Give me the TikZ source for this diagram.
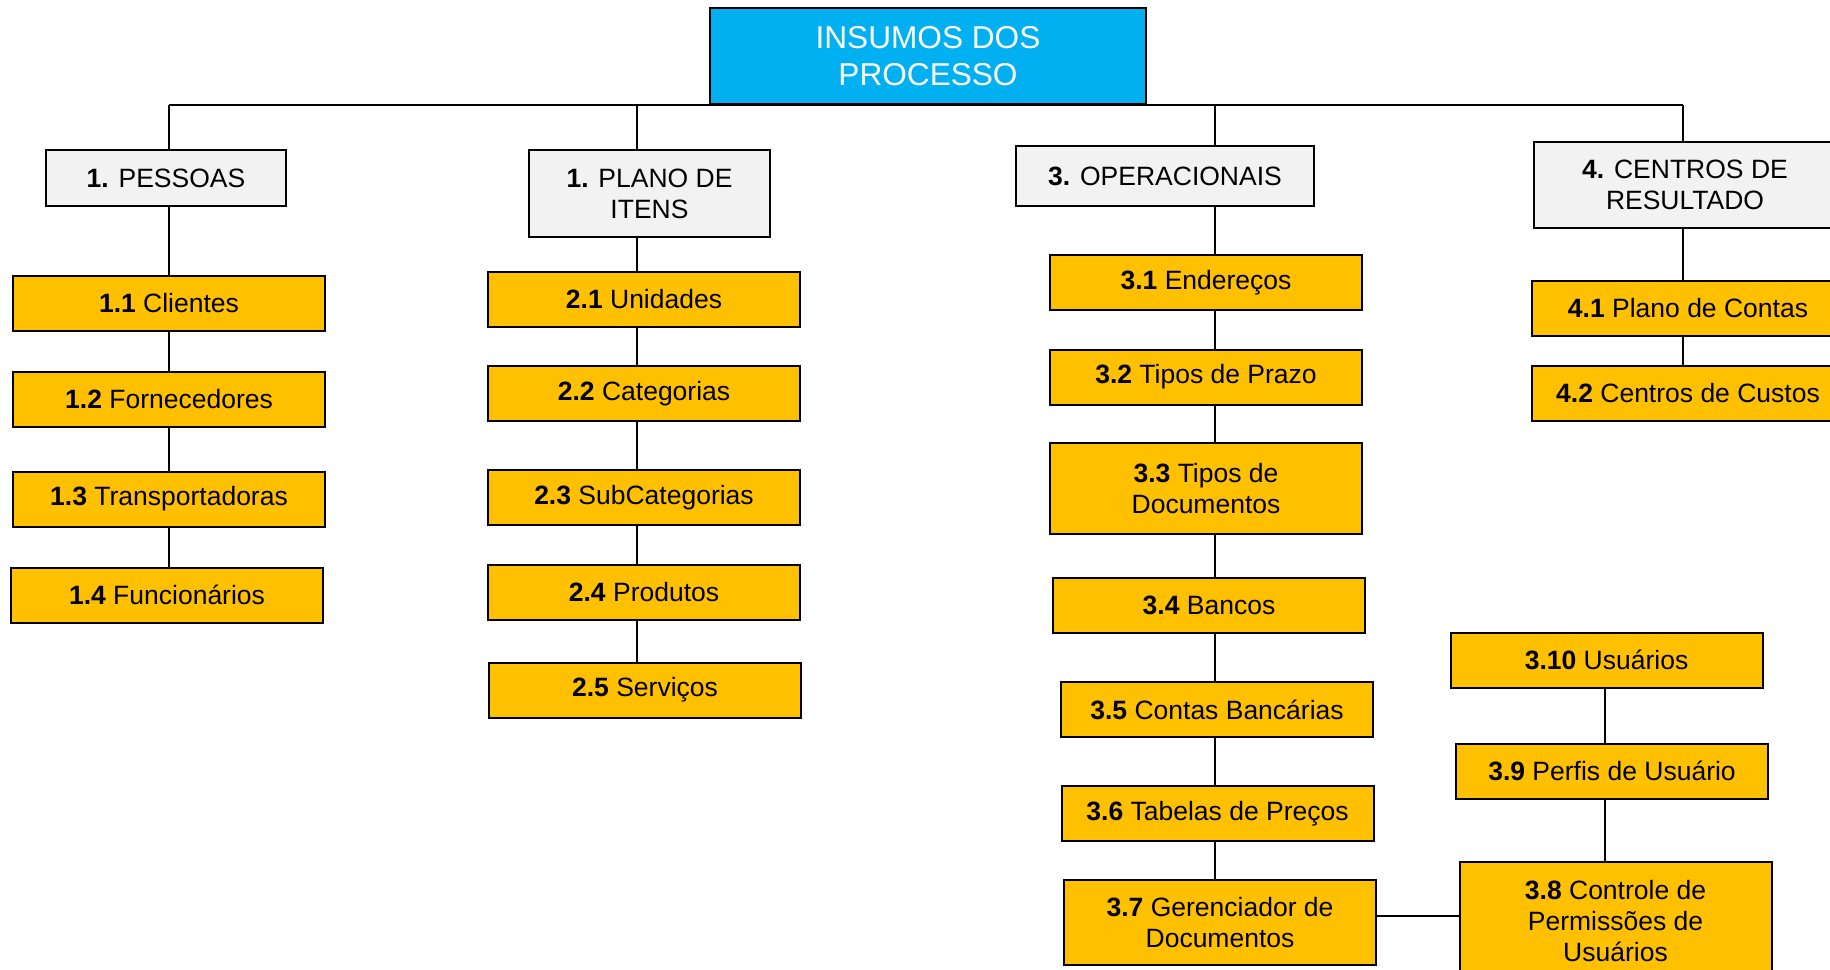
\documentclass[tikz,border=0pt]{standalone}
\usepackage{fontspec}
\setmainfont{Liberation Sans}
\definecolor{topblue}{HTML}{00B0F0}
\definecolor{catgray}{HTML}{F2F2F2}
\definecolor{subyellow}{HTML}{FFC000}
\tikzset{
box/.style={draw, line width=1pt, align=center, inner sep=0pt, font=\fontsize{13.25}{15.5}\selectfont},
cat/.style={box, fill=catgray},
sub/.style={box, fill=subyellow, minimum width=156pt, minimum height=27.5pt},
link/.style={line width=0.8pt}
}

\begin{document}
\begin{tikzpicture}[x=0.5pt, y=-0.5pt]
\useasboundingbox (0,0) rectangle (1830,969);
\coordinate (c1) at (169,0);
\coordinate (c2) at (637,0);
\coordinate (c3) at (1215,0);
\coordinate (c4) at (1683,0);
\coordinate (c5) at (1605,0);
\coordinate (c6) at (0,916);
% topo
\node[box, fill=topblue, text=white, minimum width=218pt, minimum height=48pt,
  font=\fontsize{15.8}{18.5}\selectfont] (top) at (928,56) {INSUMOS DOS\\PROCESSO};
% grupos
\node[cat, minimum width=120pt, minimum height=28pt] (p1) at (166,178) {\textbf{1.} PESSOAS};
\node[cat, minimum width=120.5pt, minimum height=43.5pt] (p2) at (649.5,193.5) {\textbf{1.} PLANO DE\\ITENS};
\node[cat, minimum width=149pt, minimum height=30pt] (p3) at (1165,176) {\textbf{3.} OPERACIONAIS};
\node[cat, minimum width=151pt, minimum height=43pt] (p4) at (1685,185) {\textbf{4.} CENTROS DE\\RESULTADO};
% pessoas
\node[sub] (s11) at (169,303.5) {\textbf{1.1} Clientes};
\node[sub] (s12) at (169,399) {\textbf{1.2} Fornecedores};
\node[sub] (s13) at (169,499) {\textbf{1.3} Transportadoras};
\node[sub] (s14) at (167,595) {\textbf{1.4} Funcionários};
% itens
\node[sub] (s21) at (644,299) {\textbf{2.1} Unidades};
\node[sub] (s22) at (644,393.5) {\textbf{2.2} Categorias};
\node[sub] (s23) at (644,497.5) {\textbf{2.3} SubCategorias};
\node[sub] (s24) at (644,592.5) {\textbf{2.4} Produtos};
\node[sub] (s25) at (645,690) {\textbf{2.5} Serviços};
% operacionais
\node[sub] (s31) at (1206,282.5) {\textbf{3.1} Endereços};
\node[sub] (s32) at (1206,377) {\textbf{3.2} Tipos de Prazo};
\node[sub, minimum height=45.5pt] (s33) at (1206,488.5) {\textbf{3.3} Tipos de\\Documentos};
\node[sub] (s34) at (1209,605.5) {\textbf{3.4} Bancos};
\node[sub] (s35) at (1217,709.5) {\textbf{3.5} Contas Bancárias};
\node[sub] (s36) at (1217.5,813.5) {\textbf{3.6} Tabelas de Preços};
\node[sub, minimum height=42.5pt] (s37) at (1220,922.5) {\textbf{3.7} Gerenciador de\\Documentos};
\node[sub, minimum height=59pt] (s38) at (1615.5,921) {\textbf{3.8} Controle de\\Permissões de\\Usuários};
\node[sub] (s39) at (1612,771) {\textbf{3.9} Perfis de Usuário};
\node[sub] (s310) at (1606.5,660) {\textbf{3.10} Usuários};
% centros
\node[sub] (s41) at (1688,308) {\textbf{4.1} Plano de Contas};
\node[sub] (s42) at (1688,393.5) {\textbf{4.2} Centros de Custos};
% ligacoes
\draw[link] (c1 |- top.south) -- (c4 |- top.south);
\draw[link] (c1 |- top.south) -- (c1 |- p1.north);
\draw[link] (c2 |- top.south) -- (c2 |- p2.north);
\draw[link] (c3 |- top.south) -- (c3 |- p3.north);
\draw[link] (c4 |- top.south) -- (c4 |- p4.north);
\draw[link] (c1 |- p1.south) -- (c1 |- s11.north);
\draw[link] (c1 |- s11.south) -- (c1 |- s12.north);
\draw[link] (c1 |- s12.south) -- (c1 |- s13.north);
\draw[link] (c1 |- s13.south) -- (c1 |- s14.north);
\draw[link] (c2 |- p2.south) -- (c2 |- s21.north);
\draw[link] (c2 |- s21.south) -- (c2 |- s22.north);
\draw[link] (c2 |- s22.south) -- (c2 |- s23.north);
\draw[link] (c2 |- s23.south) -- (c2 |- s24.north);
\draw[link] (c2 |- s24.south) -- (c2 |- s25.north);
\draw[link] (c3 |- p3.south) -- (c3 |- s31.north);
\draw[link] (c3 |- s31.south) -- (c3 |- s32.north);
\draw[link] (c3 |- s32.south) -- (c3 |- s33.north);
\draw[link] (c3 |- s33.south) -- (c3 |- s34.north);
\draw[link] (c3 |- s34.south) -- (c3 |- s35.north);
\draw[link] (c3 |- s35.south) -- (c3 |- s36.north);
\draw[link] (c3 |- s36.south) -- (c3 |- s37.north);
\draw[link] (c5 |- s310.south) -- (c5 |- s39.north);
\draw[link] (c5 |- s39.south) -- (c5 |- s38.north);
\draw[link] (s37.east |- c6) -- (s38.west |- c6);
\draw[link] (c4 |- p4.south) -- (c4 |- s41.north);
\draw[link] (c4 |- s41.south) -- (c4 |- s42.north);
\end{tikzpicture}
\end{document}
